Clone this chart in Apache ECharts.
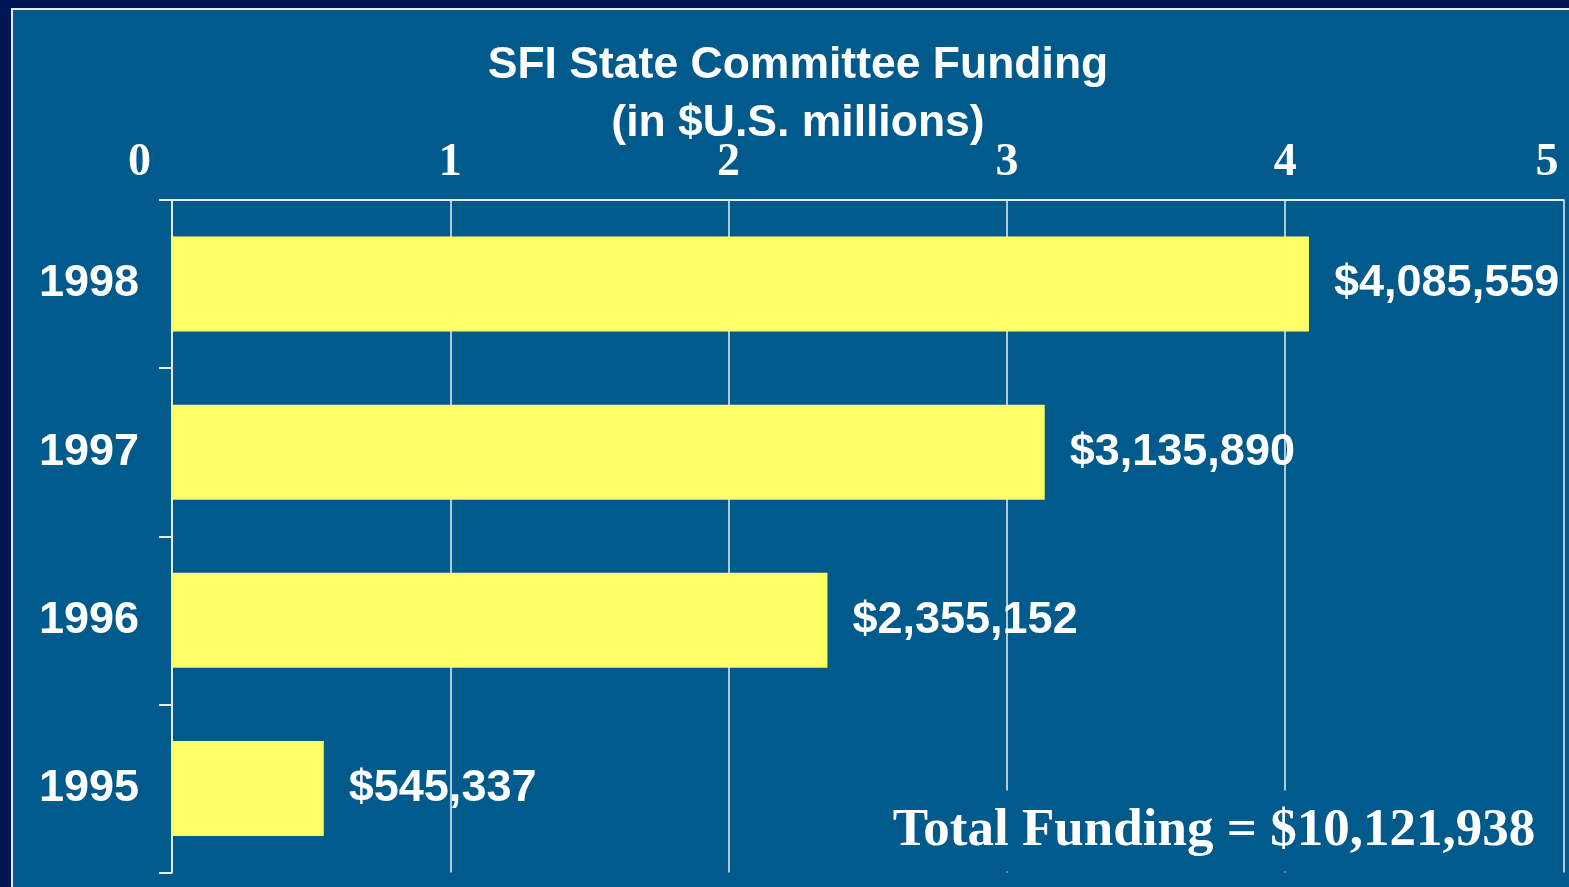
<!DOCTYPE html>
<html>
<head>
<meta charset="utf-8">
<script src="https://cdn.jsdelivr.net/npm/echarts@6/dist/echarts.min.js"></script>
<style>
  html, body { margin: 0; padding: 0; background: #001556; }
  #wrap { position: relative; width: 1569px; height: 887px; background: #001556; overflow: hidden; }
  #panel { position: absolute; left: 11px; top: 8px; width: 1600px; height: 1000px;
           background: #005b8c; border-left: 2px solid #e6eef5; border-top: 2px solid #e6eef5; box-sizing: border-box; }
  #chart { position: absolute; left: 0; top: 0; width: 1569px; height: 887px; }
</style>
</head>
<body>
<div id="wrap">
  <div id="panel"></div>
  <div id="chart"></div>
</div>
<script>
// 年份和金额（美元）
var years = ['1995', '1996', '1997', '1998'];
var funding = [545337, 2355152, 3135890, 4085559];
var axisTicks = [0, 1, 2, 3, 4, 5];
var titleLines = ['SFI State Committee Funding', '(in $U.S. millions)'];
var totalText = 'Total Funding = $10,121,938';

var sans = "'Liberation Sans', Arial, sans-serif";
var serif = "'Liberation Serif', 'Times New Roman', serif";

// 换算成百万
var millions = [];
for (let i = 0; i < funding.length; i++) {
  millions.push(funding[i] / 1000000);
}

function money(n) {
  return '$' + String(n).replace(/\B(?=(\d{3})+(?!\d))/g, ',');
}

var chart = echarts.init(document.getElementById('chart'));
var tickFont = { fontFamily: serif, fontWeight: 'bold', fontSize: 46, color: '#ffffff' };

var option = {
  backgroundColor: 'transparent',
  animation: false,
  grid: { left: 172, top: 200, right: 5.5, bottom: 14.5 },
  graphic: [
    {
      type: 'text', x: 798, y: 66, z: 100,
      style: { text: titleLines[0], align: 'center', verticalAlign: 'middle',
               font: 'bold 44.5px ' + sans, fill: '#ffffff' }
    },
    {
      type: 'text', x: 798, y: 124, z: 100,
      style: { text: titleLines[1], align: 'center', verticalAlign: 'middle',
               font: 'bold 44.5px ' + sans, fill: '#ffffff' }
    },
    {
      type: 'text', x: 1214, y: 831, z: 100,
      style: { text: totalText, align: 'center', verticalAlign: 'middle',
               font: 'bold 53px ' + serif, fill: '#ffffff',
               backgroundColor: '#005b8c', padding: [14, 14] }
    }
  ],
  xAxis: {
    type: 'value',
    position: 'top',
    min: axisTicks[0],
    max: axisTicks[axisTicks.length - 1],
    interval: 1,
    axisLine: { show: true, lineStyle: { color: '#e6eef5', width: 2 } },
    axisTick: { show: false },
    splitLine: { show: true, lineStyle: { color: '#e6eef5', width: 1.5 } },
    axisLabel: {
      margin: 14,
      formatter: function (v) {
        if (v === 0) return '{first|0}';
        if (v === 5) return '{last|5}';
        return '{n|' + v + '}';
      },
      rich: {
        first: Object.assign({ padding: [0, 65, 0, 0] }, tickFont),
        last: Object.assign({ padding: [0, 33, 0, 0] }, tickFont),
        n: tickFont
      }
    }
  },
  yAxis: {
    type: 'category',
    data: years,
    axisLine: { show: true, lineStyle: { color: '#e6eef5', width: 2 } },
    axisTick: { show: true, length: 13, lineStyle: { color: '#e6eef5', width: 2 } },
    axisLabel: { margin: 33, padding: [6, 0, 0, 0], color: '#ffffff', fontFamily: sans, fontWeight: 'bold', fontSize: 45 }
  },
  series: [
    {
      type: 'bar',
      data: millions,
      barWidth: 95,
      itemStyle: { color: '#ffff66' },
      label: {
        show: true,
        position: 'right',
        distance: 25,
        padding: [6, 0, 0, 0],
        color: '#ffffff',
        fontFamily: sans,
        fontWeight: 'bold',
        fontSize: 45,
        formatter: function (p) { return money(funding[p.dataIndex]); }
      }
    }
  ]
};
chart.setOption(option);
</script>
</body>
</html>
